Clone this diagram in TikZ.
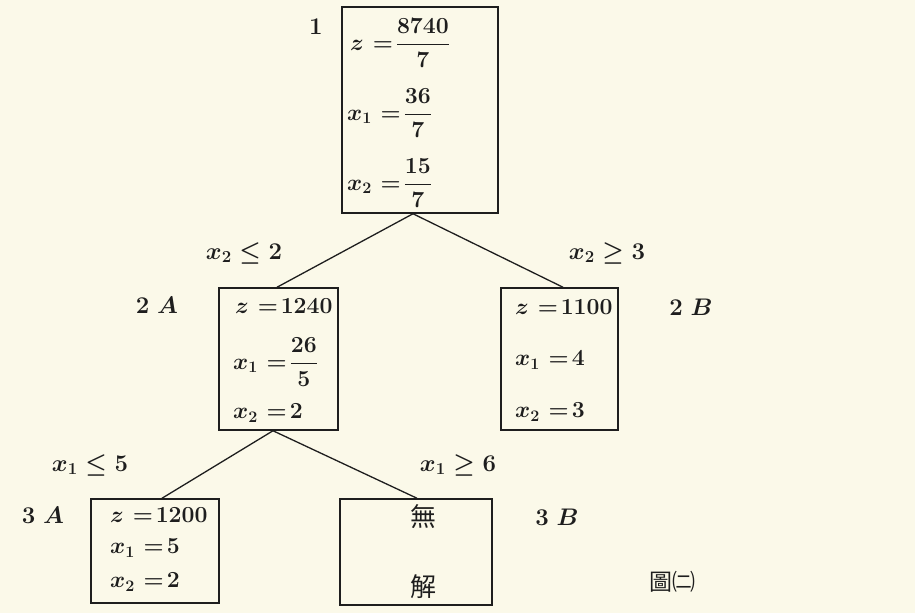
\RequirePackage{fix-cm}
\documentclass[tikz,border=0pt]{standalone}
\usepackage{amsmath}
\usepackage{fontspec}
\newfontfamily\cjk{Noto Sans CJK TC}
\definecolor{paper}{RGB}{251,249,233}
\definecolor{ink}{RGB}{30,30,30}
\newcommand{\eq}{\mskip6mu{=}\mskip2mu}
\begin{document}
\begin{tikzpicture}[x=1pt, y=-1pt,
	box/.style={draw=ink, line width=1.5pt, rectangle, inner sep=0pt},
	val/.style={anchor=west, inner sep=0pt, text=ink, font=\fontsize{23}{27}\selectfont\bfseries\boldmath},
	tag/.style={inner sep=0pt, text=ink, font=\fontsize{24}{28}\selectfont\bfseries\boldmath},
	han/.style={inner sep=0pt, text=ink, font=\cjk\fontsize{26}{30}\selectfont},
	edge/.style={draw=ink, line width=1.3pt}]
	
	% --- nền giấy ---
	\fill[paper] (0,0) rectangle (915,613);
	\useasboundingbox (0,0) rectangle (915,613);
	
	% --- nút 1 ---
	\node[box, minimum width=156pt, minimum height=206pt] (n1) at (420,110) {};
	\node[val] (n1z) at (350,43) {$z\eq\dfrac{8740}{7}$};
	\node[val] (n1x) at (347,113) {$x_1\eq\dfrac{36}{7}$};
	\node[val] (n1y) at (347,183) {$x_2\eq\dfrac{15}{7}$};
	\node[tag] (t1) at (316,27) {1};
	
	% --- nút 2A và 2B ---
	\node[box, minimum width=119pt, minimum height=142pt] (n2a) at (278.5,359) {};
	\node[val] (n2az) at (235,306) {$z\eq1240$};
	\node[val] (n2ax) at (233,362) {$x_1\eq\dfrac{26}{5}$};
	\node[val] (n2ay) at (233,413) {$x_2\eq2$};
	\node[tag] (t2a) at (157,305) {$2\;A$};
	
	\node[box, minimum width=117pt, minimum height=142pt] (n2b) at (559.5,359) {};
	\node[val] (n2bz) at (515,307) {$z\eq1100$};
	\node[val] (n2bx) at (515,360) {$x_1\eq4$};
	\node[val] (n2by) at (515,412) {$x_2\eq3$};
	\node[tag] (t2b) at (691,307) {$2\;B$};
	
	% --- nút 3A và 3B ---
	\node[box, minimum width=128pt, minimum height=104pt] (n3a) at (155,551) {};
	\node[val] (n3az) at (110,515) {$z\eq1200$};
	\node[val] (n3ax) at (110,548) {$x_1\eq5$};
	\node[val] (n3ay) at (110,582) {$x_2\eq2$};
	\node[tag] (t3a) at (43,515) {$3\;A$};
	
	\node[box, minimum width=152pt, minimum height=106pt] (n3b) at (416,552) {};
	\node[han] (n3bu) at (423,517) {無};
	\node[han] (n3bv) at (423,587) {解};
	\node[tag] (t3b) at (557,517) {$3\;B$};
	
	% --- các nhánh ---
	\draw[edge] ([xshift=-7pt]n1.south) -- ([xshift=-1.5pt]n2a.north);
	\draw[edge] ([xshift=-7pt]n1.south) -- ([xshift=3.5pt]n2b.north);
	\draw[edge] ([xshift=-5.5pt]n2a.south) -- ([xshift=7pt]n3a.north);
	\draw[edge] ([xshift=-5.5pt]n2a.south) -- ([xshift=1pt]n3b.north);
	
	% --- điều kiện nhánh ---
	\node[tag] (c2a) at (244,253) {$x_2\le 2$};
	\node[tag] (c2b) at (607,253) {$x_2\ge 3$};
	\node[tag] (c3a) at (90,465) {$x_1\le 5$};
	\node[tag] (c3b) at (458,465) {$x_1\ge 6$};
	
	% --- tên hình ---
	\node[han, font=\cjk\fontsize{23}{27}\selectfont] (cap) at (672,582) {圖㈡};
\end{tikzpicture}
\end{document}
